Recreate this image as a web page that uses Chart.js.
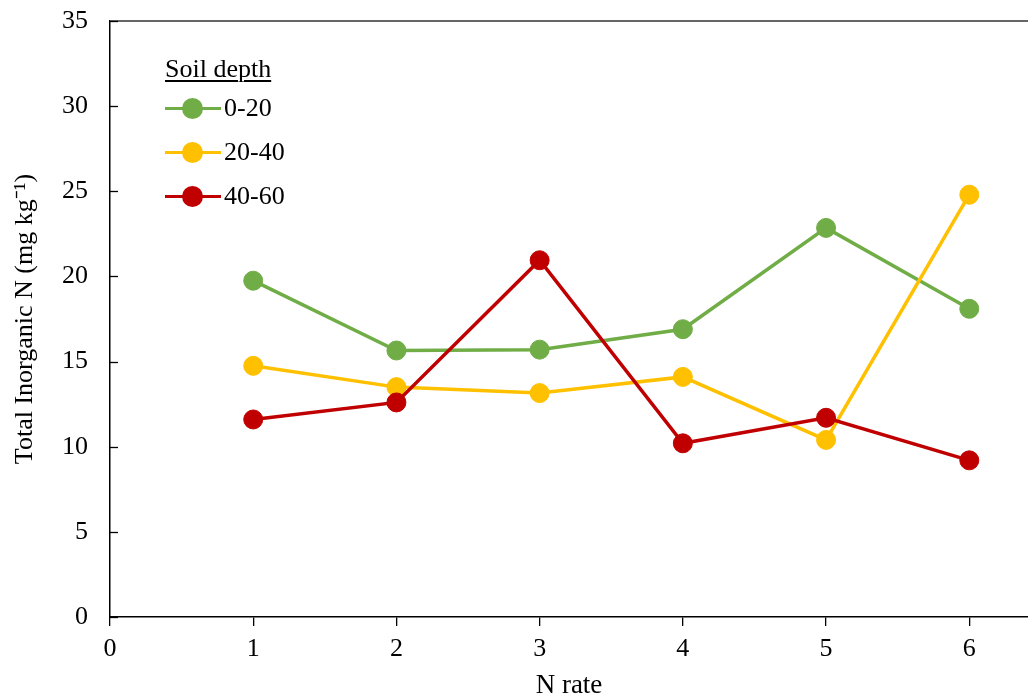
<!DOCTYPE html>
<html>
<head>
<meta charset="utf-8">
<script src="https://cdn.jsdelivr.net/npm/chart.js@4/dist/chart.umd.min.js"></script>
<style>
  html, body { margin: 0; padding: 0; background: #fff; }
  #wrap { position: relative; width: 1028px; height: 698px; overflow: hidden; }
  canvas { display: block; }
  #legend { position: absolute; left: 165px; top: 52px; font-family: "Liberation Serif", "Times New Roman", serif; font-size: 26px; color: #000; }
  #legend .title { text-decoration: underline; text-underline-offset: 3px; text-decoration-thickness: 1.5px; height: 34px; line-height: 34px; }
  #legend .item { display: flex; align-items: center; height: 44px; }
  #legend .mk { position: relative; width: 56px; height: 20px; margin-right: 3px; }
  #legend .mk .ln { position: absolute; left: 0; right: 0; top: 8.5px; height: 3.5px; }
  #legend .mk .dt { position: absolute; left: 17px; top: -0.5px; width: 21px; height: 21px; border-radius: 50%; }
</style>
</head>
<body>
<div id="wrap">
  <canvas id="c" width="1028" height="698"></canvas>
  <div id="legend"></div>
</div>
<script>
const nRates = [1, 2, 3, 4, 5, 6];
const seriesNames = ["0-20", "20-40", "40-60"];
const depth0_20 = [19.75, 15.65, 15.7, 16.9, 22.85, 18.1];
const depth20_40 = [14.75, 13.5, 13.15, 14.1, 10.4, 24.8];
const depth40_60 = [11.6, 12.6, 20.95, 10.2, 11.7, 9.2];
const xTicks = [0, 1, 2, 3, 4, 5, 6];
const yTicks = [0, 5, 10, 15, 20, 25, 30, 35];
const colors = ["#70AD47", "#FFC000", "#C00000"];

const allSeries = [depth0_20, depth20_40, depth40_60];
const datasets = allSeries.map((vals, i) => ({
  label: seriesNames[i],
  data: nRates.map((x, j) => ({ x: x, y: vals[j] })),
  borderColor: colors[i],
  backgroundColor: colors[i],
  pointBackgroundColor: colors[i],
  pointBorderColor: colors[i],
  pointRadius: 9.5,
  pointBorderWidth: 1,
  pointHoverRadius: 9.5,
  borderWidth: 3.5,
  showLine: true,
  tension: 0,
  clip: false,
  order: 2 - i
}));

const serif = "'Liberation Serif', 'Times New Roman', serif";

const framePlugin = {
  id: 'frame',
  beforeDatasetsDraw(chart) {
    const ctx = chart.ctx;
    const a = chart.chartArea;
    const ys = chart.scales.y;
    ctx.save();
    ctx.strokeStyle = '#666666';
    ctx.lineWidth = 2;
    ctx.beginPath();
    ctx.moveTo(a.left, a.top);
    ctx.lineTo(a.right, a.top);
    ctx.stroke();
    ctx.strokeStyle = '#000';
    ctx.lineWidth = 1.3;
    yTicks.forEach(v => {
      const py = Math.round(ys.getPixelForValue(v)) + 0.5;
      ctx.beginPath();
      ctx.moveTo(a.left, py);
      ctx.lineTo(a.left + 8, py);
      ctx.stroke();
    });
    ctx.restore();
  }
};

new Chart(document.getElementById('c'), {
  type: 'scatter',
  data: { datasets: datasets },
  options: {
    responsive: false,
    animation: false,
    devicePixelRatio: 1,
    layout: { autoPadding: false, padding: { top: 21, right: 0, left: 0, bottom: 0 } },
    plugins: { legend: { display: false }, tooltip: { enabled: false } },
    scales: {
      x: {
        type: 'linear',
        min: 0,
        max: 6.41,
        afterBuildTicks(scale) { scale.ticks = xTicks.map(v => ({ value: v })); },
        ticks: { color: '#000', font: { family: serif, size: 26 }, padding: 8, callback: v => String(v) },
        grid: { display: true, drawOnChartArea: false, drawTicks: true, tickLength: 9, color: '#000', lineWidth: 1.3 },
        border: { display: true, color: '#000', width: 1.5 },
        title: { display: true, text: 'N rate', color: '#000', font: { family: serif, size: 27, lineHeight: 1 }, padding: { top: 2, bottom: -1 } },
        afterFit(scale) { scale.height = 81; }
      },
      y: {
        type: 'linear',
        min: 0,
        max: 35,
        afterBuildTicks(scale) { scale.ticks = yTicks.map(v => ({ value: v })); },
        ticks: { color: '#000', font: { family: serif, size: 26 }, padding: 2 },
        grid: { display: true, drawOnChartArea: false, drawTicks: true, tickLength: 20, tickColor: 'rgba(0,0,0,0)', color: 'rgba(0,0,0,0)' },
        border: { display: true, color: '#000', width: 1.5 },
        title: { display: true, text: 'Total Inorganic N (mg kg\u207B\u00B9)', color: '#000', font: { family: serif, size: 26 }, padding: { top: 10, bottom: 0 } },
        afterFit(scale) { scale.width = 110; }
      }
    }
  },
  plugins: [framePlugin]
});

const lg = document.getElementById('legend');
const t = document.createElement('div');
t.className = 'title';
t.textContent = 'Soil depth';
lg.appendChild(t);
seriesNames.forEach((name, i) => {
  const it = document.createElement('div');
  it.className = 'item';
  it.innerHTML = '<div class="mk"><div class="ln" style="background:' + colors[i] + '"></div><div class="dt" style="background:' + colors[i] + '"></div></div><span>' + name + '</span>';
  lg.appendChild(it);
});
</script>
</body>
</html>
